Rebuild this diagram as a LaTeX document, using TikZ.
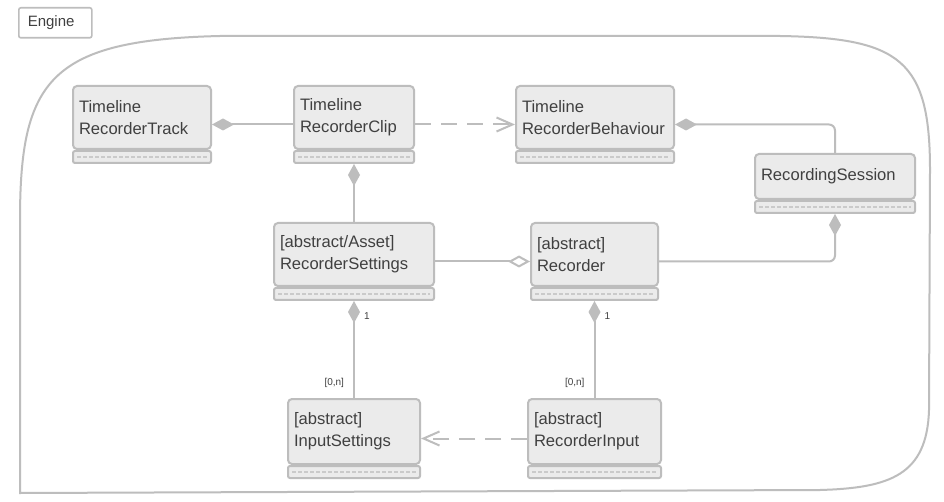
\documentclass[tikz,border=0pt]{standalone}
\usepackage{fontspec}
\setmainfont{Liberation Sans}
\usetikzlibrary{arrows.meta,calc}

\definecolor{edge}{HTML}{BDBDBD}
\definecolor{boxfill}{HTML}{EBEBEB}
\definecolor{sepline}{HTML}{CACACA}
\definecolor{ink}{HTML}{404040}

\tikzset{
  cls/.style={draw=edge, line width=2pt, fill=boxfill, rounded corners=4pt,
    anchor=north west, inner sep=0pt, text=ink, align=left,
    font=\fontsize{16.6}{22}\selectfont},
  compart/.style={draw=edge, line width=2pt, fill=boxfill, rounded corners=2pt,
    anchor=north, inner sep=0pt, minimum height=12pt},
  sepdash/.style={draw=sepline, line width=1.5pt, dash pattern=on 4pt off 2pt},
  wire/.style={draw=edge, line width=2pt, rounded corners=6pt},
  depend/.style={wire, dash pattern=on 16pt off 10pt},
  mult/.style={font=\fontsize{10}{12}\selectfont, text=ink, inner sep=0pt},
  fd/.tip={Diamond[length=22pt,width=12pt,fill=edge]},
  od/.tip={Diamond[open,length=22pt,width=12pt,fill=white]},
  vee/.tip={Straight Barb[length=16pt,width=14pt]},
}

% class box: name, x, y, width, height, text
\newcommand\umlclass[6]{%
  \pgfmathsetmacro\clsinner{#4-12}%
  \node[cls, minimum width=#4pt, minimum height=#5pt, text width=\clsinner pt]
    (#1) at (#2,#3) {#6};
  \node[compart, minimum width=#4pt] (#1-c) at (#1.south) {};
  \draw[sepdash] ($(#1-c.west)+(5,0)$) -- ($(#1-c.east)+(-5,0)$);
  \coordinate (#1-m) at ($(#1.north)!0.5!(#1-c.south)$);
}

\begin{document}
\begin{tikzpicture}[x=1pt,y=-1pt]
  \useasboundingbox (0,0) rectangle (944,502);
  \fill[white] (0,0) rectangle (944,502);

  % package tab and frame
  \node[draw=edge, line width=1.6pt, rounded corners=2pt, anchor=north west,
        minimum width=73pt, minimum height=30pt, inner sep=0pt, text=ink,
        text width=55pt, align=left,
        font=\fontsize{15}{17}\selectfont] (engine) at (18,7) {Engine};
  \draw[draw=edge, line width=2pt]
    (20,493) -- (20,220) .. controls (20,80) and (50,40) .. (220,36)
    -- (780,36) .. controls (900,38) and (930,60) .. (930,170)
    -- (929,410) .. controls (927,475) and (890,488) .. (820,490) -- cycle;

  % classes
  \umlclass{track}{72}{85}{138}{63}{Timeline\\RecorderTrack}
  \umlclass{clip}{293}{85}{120}{63}{Timeline\\RecorderClip}
  \umlclass{beh}{515}{85}{158}{63}{Timeline\\RecorderBehaviour}
  \umlclass{sess}{754}{153}{160}{45}{RecordingSession}
  \umlclass{set}{273}{222}{160}{63}{[abstract/Asset]\\RecorderSettings}
  \umlclass{rec}{530}{222}{127}{63}{[abstract]\\Recorder}
  \umlclass{inset}{287}{398}{132}{65}{[abstract]\\InputSettings}
  \umlclass{rinp}{527}{398}{133}{65}{[abstract]\\RecorderInput}

  % relations
  \draw[wire, fd-] (track.east |- track-m) -- (clip.west |- track-m);
  \draw[depend, -vee] (clip.east |- clip-m) -- (beh.west |- clip-m);
  \draw[wire, fd-] (beh.east |- beh-m) -| (sess.north);
  \draw[wire, fd-] (clip-c.south) -- (set.north);
  \draw[wire, -od] (set.east |- set-m) -- (rec.west |- set-m);
  \draw[wire, -fd] (rec.east |- rec-m) -| (sess-c.south);
  \draw[wire, fd-] (set-c.south) -- (inset.north)
    node[mult, pos=0.16, anchor=west, xshift=9pt] {1}
    node[mult, pos=0.84, anchor=east, xshift=-9pt] {[0,n]};
  \draw[wire, fd-] (rec-c.south) -- (rinp.north)
    node[mult, pos=0.16, anchor=west, xshift=9pt] {1}
    node[mult, pos=0.84, anchor=east, xshift=-9pt] {[0,n]};
  \draw[depend, -vee] (rinp.west |- rinp-m) -- (inset.east |- rinp-m);
\end{tikzpicture}
\end{document}
